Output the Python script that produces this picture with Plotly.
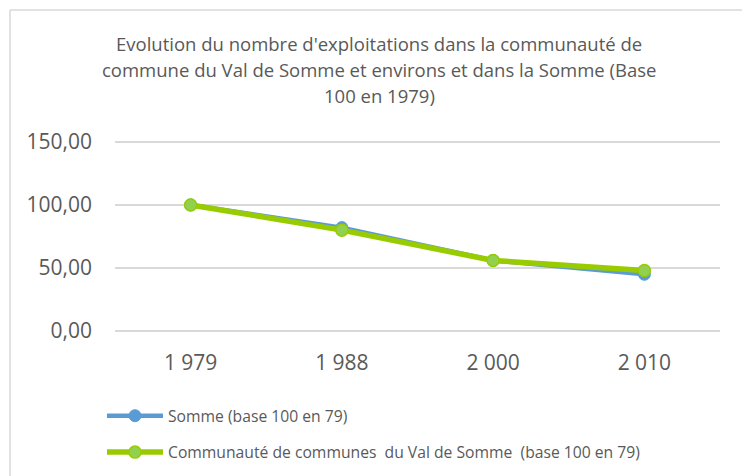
import plotly.graph_objects as go

years = ["1 979", "1 988", "2 000", "2 010"]
somme = [100, 82, 56, 45]
val_de_somme = [100, 80, 56, 48]
y_ticks = [0, 50, 100, 150]
y_tick_text = ["0,00", "50,00", "100,00", "150,00"]

title_lines = [
    "Evolution du nombre d'exploitations dans la communauté de",
    "commune du Val de Somme et environs et dans la Somme (Base",
    "100 en 1979)",
]

GREY_TEXT = "#595959"
GRID = "#d9d9d9"
FONT = "Open Sans"

fig = go.Figure()
fig.add_trace(
    go.Scatter(
        x=years,
        y=somme,
        mode="lines+markers",
        name="Somme (base 100 en 79)",
        legendgroup="a",
        line=dict(color="#5b9bd5", width=4.5),
        marker=dict(size=12, color="#5b9bd5", line=dict(color="#5b9bd5", width=1)),
    )
)
fig.add_trace(
    go.Scatter(
        x=years,
        y=val_de_somme,
        mode="lines+markers",
        name="Communauté de communes  du Val de Somme  (base 100 en 79)",
        legendgroup="b",
        line=dict(color="#99cc00", width=5.5),
        marker=dict(size=12, color="#92d050", line=dict(color="#99cc00", width=1.5)),
    )
)

W, H = 742, 476
L, R, T, B = 115, 22, 140, 145
pw, ph = W - L - R, H - T - B

# title lines placed one by one to get Excel's line spacing
for i, line in enumerate(title_lines):
    fig.add_annotation(
        text=line, xref="paper", yref="paper",
        x=(379 - L) / pw, y=(H - B - (43.5 + 26 * i)) / ph,
        xanchor="center", yanchor="middle", showarrow=False,
        font=dict(size=18.5, color=GREY_TEXT),
    )

# chart border (only top and left are visible in the reference)
bx = (10 - L) / pw
by = (H - B - 10) / ph
border = dict(color="#d9d9d9", width=1.5)
fig.add_shape(type="line", xref="paper", yref="paper",
              x0=bx, x1=1.2, y0=by, y1=by, line=border)
fig.add_shape(type="line", xref="paper", yref="paper",
              x0=bx, x1=bx, y0=by, y1=-1.2, line=border)

fig.update_layout(
    width=W,
    height=H,
    margin=dict(l=L, r=R, t=T, b=B, autoexpand=False),
    paper_bgcolor="white",
    plot_bgcolor="white",
    font=dict(family=FONT, color=GREY_TEXT),
    xaxis=dict(
        type="category",
        range=[-0.5, 3.5],
        showgrid=False,
        showline=False,
        zeroline=False,
        ticks="",
        tickfont=dict(size=21, color=GREY_TEXT),
        ticklabelstandoff=17,
    ),
    yaxis=dict(
        range=[0, 151.5],
        tickvals=y_ticks,
        ticktext=y_tick_text,
        showgrid=True,
        gridcolor=GRID,
        gridwidth=1.5,
        zeroline=True,
        zerolinecolor=GRID,
        zerolinewidth=1.5,
        showline=False,
        ticks="",
        tickfont=dict(size=21, color=GREY_TEXT),
        ticklabelstandoff=22,
    ),
    legend=dict(
        x=(102 - L) / pw,
        xanchor="left",
        y=(H - B - 399) / ph,
        yanchor="top",
        orientation="v",
        traceorder="grouped",
        tracegroupgap=13,
        itemwidth=56,
        font=dict(size=15.7, color=GREY_TEXT),
        bgcolor="rgba(0,0,0,0)",
    ),
    showlegend=True,
)

# drop the default page margin so the figure sits at the window's top-left
fig.write_html(
    "out.html",
    config={"displayModeBar": False},
    post_script="document.body.style.margin='0';",
)
